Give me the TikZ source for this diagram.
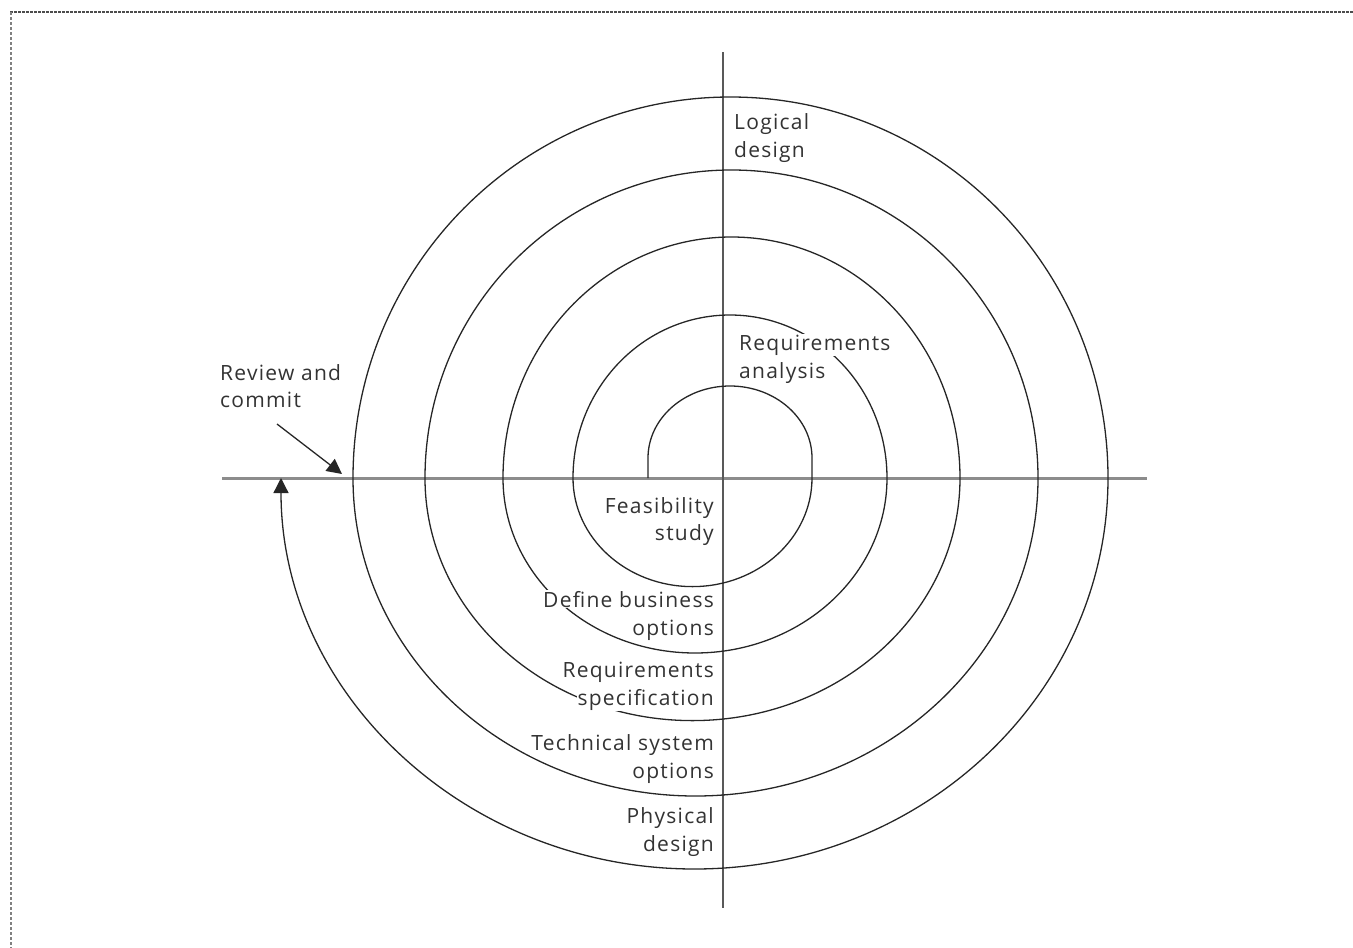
\documentclass[tikz,border=0pt]{standalone}
\usepackage{fontspec}
\setmainfont[LetterSpace=6]{Open Sans}
\usetikzlibrary{arrows.meta}
\begin{document}
\begin{tikzpicture}[x=1pt,y=-1pt,
  lbl/.style={font=\fontsize{21}{28}\selectfont, text=black!80, fill=white, inner sep=1pt},
  spiralline/.style={line width=1.3pt, draw=black!85},
  haxis/.style={line width=3pt, draw=black!45},
  vaxis/.style={line width=1.4pt, draw=black!65},
  tipend/.style={-{Triangle[length=15pt,width=15pt]}},
  toprule/.style={dash pattern=on 3pt off 1pt, line width=2.6pt, draw=black!70},
  siderule/.style={densely dashed, line width=1.4pt, draw=black!50}
]
\useasboundingbox (0,0) rectangle (1353,948);

% page edge rules
\draw[toprule] (10,12) -- (1353,12);
\draw[siderule] (11,12) -- (11,948);

% axes
\coordinate (hl) at (222,478);
\coordinate (hr) at (1147,478);
\coordinate (vt) at (723,52);
\coordinate (vb) at (723,908);
\draw[haxis] (hl) -- (hr);
\draw[vaxis] (vt) -- (vb);

% the spiral: a rounded inner loop, then alternating half-ellipses
\coordinate (s0) at (648,478);
\draw[spiralline, tipend] (s0) -- ++(0,-20)
  arc[start angle=180, end angle=0,    x radius=82pt,    y radius=72pt]
  -- ++(0,20)
  arc[start angle=0,   end angle=-180, x radius=119.5pt, y radius=108.6pt]
  arc[start angle=180, end angle=0,    x radius=157pt,   y radius=163pt]
  arc[start angle=0,   end angle=-180, x radius=192pt,   y radius=175pt]
  arc[start angle=180, end angle=0,    x radius=228.5pt, y radius=241pt]
  arc[start angle=0,   end angle=-180, x radius=267.5pt, y radius=242.6pt]
  arc[start angle=180, end angle=0,    x radius=306.5pt, y radius=308pt]
  arc[start angle=0,   end angle=-180, x radius=342.5pt, y radius=318pt]
  arc[start angle=180, end angle=0,    x radius=377.5pt, y radius=381pt]
  arc[start angle=0,   end angle=-180, x radius=413.5pt, y radius=391pt];

% stage labels, one line per node so the mask hugs the text
\node[lbl, anchor=base west] (logicalA)  at (733,129) {Logical};
\node[lbl, anchor=base west] (logicalB)  at (733,157) {design};
\node[lbl, anchor=base west] (reqanA)    at (738,350) {Requirements};
\node[lbl, anchor=base west] (reqanB)    at (738,378) {analysis};
\node[lbl, anchor=base east] (feasA)     at (715,513) {Feasibility};
\node[lbl, anchor=base east] (feasB)     at (715,540) {study};
\node[lbl, anchor=base east] (defineA)   at (715,607) {Define business};
\node[lbl, anchor=base east] (defineB)   at (715,635) {options};
\node[lbl, anchor=base east] (reqspecA)  at (715,677) {Requirements};
\node[lbl, anchor=base east] (reqspecB)  at (715,705) {specification};
\node[lbl, anchor=base east] (techsysA)  at (715,750) {Technical system};
\node[lbl, anchor=base east] (techsysB)  at (715,778) {options};
\node[lbl, anchor=base east] (physicalA) at (715,823) {Physical};
\node[lbl, anchor=base east] (physicalB) at (715,851) {design};
\node[lbl, anchor=base west] (reviewA)   at (219,380) {Review and};
\node[lbl, anchor=base west] (reviewB)   at (219,407) {commit};

% pointer to the review point
\coordinate (ptrstart) at (277,424);
\coordinate (commitpt) at (342,474);
\draw[spiralline, tipend] (ptrstart) -- (commitpt);
\end{tikzpicture}
\end{document}
